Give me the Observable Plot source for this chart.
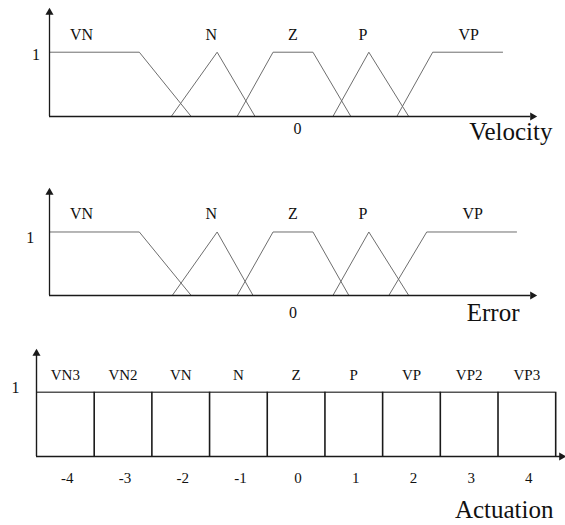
<!DOCTYPE html>
<html>
<head>
<meta charset="utf-8">
<script src="https://cdn.jsdelivr.net/npm/d3@7"></script>
<script src="https://cdn.jsdelivr.net/npm/@observablehq/plot@0.6"></script>
<style>
  html, body { margin: 0; padding: 0; background: #fff; }
  #chart { position: relative; width: 565px; height: 525px; }
  #chart svg { display: block; }
</style>
</head>
<body>
<div id="chart"></div>
<script>
// ---------- data ----------
const setNames = ["VN", "N", "Z", "P", "VP"];

// Velocity membership functions: breakpoints (x) and membership (mu)
const velocityX  = [[-12.2, -7.7, -5.1], [-6.1, -3.8, -1.9], [-2.8, -1.0, 1.0, 2.9], [2.0, 3.8, 5.8], [5.2, 7.0, 10.5]];
const velocityMu = [[1, 1, 0], [0, 1, 0], [0, 1, 1, 0], [0, 1, 0], [0, 1, 1]];
const velocityLabelX = [-10.6, -4.1, 0, 3.5, 8.8];

// Error membership functions
const errorX  = [[-12.2, -7.7, -5.1], [-6.05, -3.8, -2.0], [-2.8, -1.0, 1.0, 2.8], [2.0, 3.8, 5.8], [4.8, 6.7, 11.2]];
const errorMu = [[1, 1, 0], [0, 1, 0], [0, 1, 1, 0], [0, 1, 0], [0, 1, 1]];
const errorLabelX = [-10.6, -4.1, 0, 3.5, 9.0];

// Actuation sets
const actuationNames  = ["VN3", "VN2", "VN", "N", "Z", "P", "VP", "VP2", "VP3"];
const actuationValues = [-4, -3, -2, -1, 0, 1, 2, 3, 4];
const actuationTicks  = ["-4", "-3", "-2", "-1", "0", "1", "2", "3", "4"];

// ---------- helpers ----------
const FONT = "'Liberation Serif', 'Times New Roman', serif";
const AX = "#1a1a1a";
const MF = "#6e6e6e";

function mfRows(xs, mus) {
  return setNames.flatMap((n, i) => xs[i].map((x, j) => ({set: n, x, mu: mus[i][j]})));
}

function fuzzyPanel({xs, mus, labelX, title, xDom, yTop, height, marginTop, marginBottom,
                     labelY, oneDx, oneY, zeroX, zeroY, titleDx, titleY}) {
  const rows = mfRows(xs, mus);
  return Plot.plot({
    width: 565, height, marginLeft: 49, marginRight: 29, marginTop, marginBottom,
    x: {domain: xDom, axis: null},
    y: {domain: [0, yTop], axis: null},
    style: {fontFamily: FONT, background: "white", overflow: "visible"},
    marks: [
      Plot.line(rows, {x: "x", y: "mu", z: "set", stroke: MF, strokeWidth: 1}),
      Plot.ruleX([xDom[0]], {y1: 0, y2: yTop - 0.05, stroke: AX, strokeWidth: 1.3}),
      Plot.ruleY([0], {x1: xDom[0], x2: xDom[1] - 0.3, stroke: AX, strokeWidth: 1.3}),
      Plot.dot([[xDom[0], yTop]], {x: d => d[0], y: d => d[1], symbol: "triangle", r: 3, fill: AX, stroke: "none", dy: 4}),
      Plot.dot([[xDom[1], 0]], {x: d => d[0], y: d => d[1], symbol: "triangle", r: 3, fill: AX, stroke: "none", rotate: 90, dx: -4}),
      Plot.text(setNames, {x: (d, i) => labelX[i], y: labelY, text: d => d, fontSize: 16, fill: "#111"}),
      Plot.text(["1"], {x: xDom[0], y: oneY, text: d => d, dx: oneDx, fontSize: 16, fill: "#111"}),
      Plot.text(["0"], {x: zeroX, y: zeroY, text: d => d, fontSize: 16, fill: "#111"}),
      Plot.text([title], {x: xDom[1], y: titleY, text: d => d, dx: titleDx, textAnchor: "end", fontSize: 25, fill: "#111"})
    ]
  });
}

const chart = document.getElementById("chart");

const p1 = fuzzyPanel({
  xs: velocityX, mus: velocityMu, labelX: velocityLabelX, title: "Velocity",
  xDom: [-12.2, 12.2], yTop: 1.68, height: 175, marginTop: 8, marginBottom: 59,
  labelY: 1.27, oneDx: -13.5, oneY: 0.965, zeroX: 0.225, zeroY: -0.195, titleDx: 16, titleY: -0.235
});
chart.appendChild(p1);

const p2 = fuzzyPanel({
  xs: errorX, mus: errorMu, labelX: errorLabelX, title: "Error",
  xDom: [-12.2, 12.2], yTop: 1.685, height: 165, marginTop: 13, marginBottom: 45,
  labelY: 1.29, oneDx: -19.3, oneY: 0.9, zeroX: 0, zeroY: -0.27, titleDx: -17, titleY: -0.28
});
chart.appendChild(p2);

// Actuation panel
const boxes = actuationValues.map((v, i) => ({v, name: actuationNames[i], tick: actuationTicks[i]}));
const p3 = Plot.plot({
  width: 565, height: 185, marginLeft: 36, marginRight: 0, marginTop: 9, marginBottom: 69,
  x: {domain: [-4.5, 4.67], axis: null},
  y: {domain: [0, 1.665], axis: null},
  style: {fontFamily: FONT, background: "white", overflow: "visible"},
  marks: [
    Plot.ruleY([1], {x1: -4.5, x2: 4.5, stroke: "#555", strokeWidth: 1.3}),
    Plot.ruleX(actuationValues.map(v => v + 0.5), {y1: 0, y2: 1, stroke: AX, strokeWidth: 1.6}),
    Plot.ruleX([-4.5], {y1: 0, y2: 1.61, stroke: AX, strokeWidth: 1.4}),
    Plot.ruleY([0], {x1: -4.5, x2: 4.6, stroke: AX, strokeWidth: 1.4}),
    Plot.dot([[-4.5, 1.665]], {x: d => d[0], y: d => d[1], symbol: "triangle", r: 3, fill: AX, stroke: "none", dy: 4}),
    Plot.dot([[4.67, 0]], {x: d => d[0], y: d => d[1], symbol: "triangle", r: 3, fill: AX, stroke: "none", rotate: 90, dx: -4}),
    Plot.text(boxes, {x: "v", y: 1.26, text: "name", fontSize: 15, fill: "#111"}),
    Plot.text(boxes, {x: "v", y: -0.335, text: "tick", dx: 2, fontSize: 15, fill: "#111"}),
    Plot.text(["1"], {x: -4.5, y: 1.07, text: d => d, dx: -21, fontSize: 16, fill: "#111"}),
    Plot.text(["Actuation"], {x: 4.67, y: -0.84, text: d => d, dx: -12, textAnchor: "end", fontSize: 25, fill: "#111"})
  ]
});
chart.appendChild(p3);
</script>
</body>
</html>
